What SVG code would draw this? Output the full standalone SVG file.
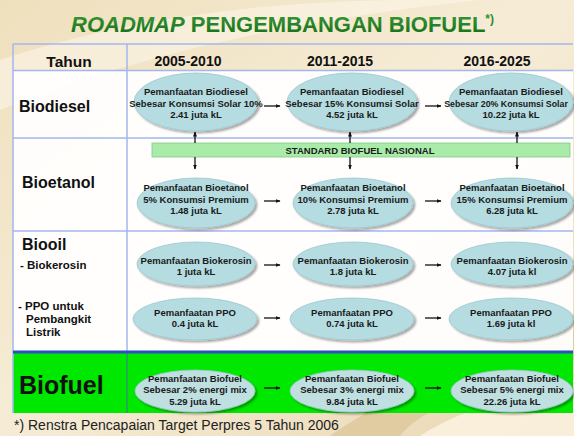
<svg xmlns="http://www.w3.org/2000/svg" width="574" height="436" viewBox="0 0 574 436">
<defs>
<linearGradient id="bg" x1="0" y1="0" x2="1" y2="1">
<stop offset="0" stop-color="#efe0bd"/>
<stop offset="0.5" stop-color="#f6ecd6"/>
<stop offset="1" stop-color="#e9d6b0"/>
</linearGradient>
<linearGradient id="ttl" x1="0" y1="0" x2="0" y2="1">
<stop offset="0" stop-color="#3a9a3a"/>
<stop offset="1" stop-color="#146c14"/>
</linearGradient>
<marker id="ah" viewBox="0 0 10 10" refX="9" refY="5" markerWidth="5" markerHeight="5" orient="auto-start-reverse" markerUnits="userSpaceOnUse">
<path d="M0,1 L10,5 L0,9 z" fill="#111"/>
</marker>
<filter id="sh" x="-10%" y="-10%" width="130%" height="140%">
<feGaussianBlur in="SourceAlpha" stdDeviation="1.2"/>
<feOffset dx="1.5" dy="2" result="o"/>
<feComponentTransfer><feFuncA type="linear" slope="0.35"/></feComponentTransfer>
<feMerge><feMergeNode/><feMergeNode in="SourceGraphic"/></feMerge>
</filter>
</defs>
<style>
.ell{fill:#b5dce1;stroke:#9cc7ce;stroke-width:0.8;filter:url(#sh)}
.et{font-family:"Liberation Sans",Arial,sans-serif;font-size:9.5px;font-weight:bold;fill:#1a1a1a;text-anchor:middle}
.lbl{font-family:"Liberation Sans",Arial,sans-serif;font-weight:bold;fill:#111}
.grid{stroke:#a4b6ee;stroke-width:1.5;fill:none}
.arr{stroke:#111;stroke-width:1.3;marker-end:url(#ah)}
.hd{font-family:"Liberation Sans",Arial,sans-serif;font-size:14px;font-weight:bold;fill:#111;text-anchor:middle}
</style>
<rect width="574" height="436" fill="url(#bg)"/>
<path d="M0,60 C120,20 260,0 420,0 L480,0 C300,20 150,50 0,110 z" fill="#fbf5e8" opacity="0.6"/>
<path d="M330,436 C380,400 470,360 574,330 L574,360 C480,385 420,410 400,436 z" fill="#d9bf8f" opacity="0.6"/>
<path d="M420,436 C450,415 520,390 574,380 L574,436 z" fill="#fff8ea" opacity="0.7"/>

<text x="71" y="32" font-family="Liberation Sans,Arial,sans-serif" font-size="22" font-weight="bold" fill="url(#ttl)"><tspan font-style="italic">ROADMAP</tspan> PENGEMBANGAN BIOFUEL<tspan font-size="12" dy="-9">*)</tspan></text>

<g id="table">
<rect x="13" y="70" width="560" height="282" fill="#ffffff" opacity="0.93"/>
<rect x="13" y="352" width="560" height="61" fill="#00e800"/>
<path class="grid" d="M13,44 H573 M13,70.5 H573 M13,138 H573 M13,231 H573 M13,44 V413 M127,44 V352"/>
<path d="M127,352 V413" stroke="#2a9a6a" stroke-width="1.5"/>
<path d="M13,352 H573" stroke="#2d4fc4" stroke-width="3"/>
</g>

<g id="headers">
<text class="lbl" x="69" y="67" font-size="15.5" text-anchor="middle">Tahun</text>
<text class="hd" x="188" y="66">2005-2010</text>
<text class="hd" x="340" y="66">2011-2015</text>
<text class="hd" x="497" y="66">2016-2025</text>
</g>

<g id="row-labels">
<text class="lbl" x="19" y="112" font-size="16">Biodiesel</text>
<text class="lbl" x="22" y="188" font-size="16">Bioetanol</text>
<text class="lbl" x="22" y="250" font-size="16">Biooil</text>
<text class="lbl" x="20" y="269" font-size="11.5">- Biokerosin</text>
<text class="lbl" x="18" y="310" font-size="11.5">- PPO untuk</text>
<text class="lbl" x="26" y="323" font-size="11.5">Pembangkit</text>
<text class="lbl" x="26" y="336" font-size="11.5">Listrik</text>
<text class="lbl" x="19" y="394" font-size="25">Biofuel</text>
</g>

<g id="standard-bar">
<rect x="152" y="143" width="418" height="14" fill="#a9eca9" stroke="#86c886" stroke-width="0.8"/>
<text class="et" x="360" y="153.5">STANDARD BIOFUEL NASIONAL</text>
</g>

<g id="biodiesel-1"><ellipse class="ell" cx="196" cy="102" rx="62" ry="29"/>
<text class="et" x="196" y="94.5">Pemanfaatan Biodiesel</text><text class="et" x="196" y="106.5">Sebesar Konsumsi Solar 10%</text><text class="et" x="196" y="118">2.41 juta kL</text></g>
<g id="biodiesel-2"><ellipse class="ell" cx="352" cy="102" rx="65" ry="29"/>
<text class="et" x="352" y="94.5">Pemanfaatan Biodiesel</text><text class="et" x="352" y="106.5">Sebesar 15% Konsumsi Solar</text><text class="et" x="352" y="118">4.52 juta kL</text></g>
<g id="biodiesel-3"><ellipse class="ell" cx="511" cy="102" rx="62" ry="29"/>
<text class="et" x="511" y="94.5">Pemanfaatan Biodiesel</text><text class="et" x="506" y="106.5" style="font-size:8.8px">Sebesar 20% Konsumsi Solar</text><text class="et" x="511" y="118">10.22 juta kL</text></g>

<g id="bioetanol-1"><ellipse class="ell" cx="196" cy="203" rx="59" ry="25"/>
<text class="et" x="196" y="190.5">Pemanfaatan Bioetanol</text><text class="et" x="196" y="202.5">5% Konsumsi Premium</text><text class="et" x="196" y="214">1.48 juta kL</text></g>
<g id="bioetanol-2"><ellipse class="ell" cx="353" cy="203" rx="60" ry="25"/>
<text class="et" x="353" y="190.5">Pemanfaatan Bioetanol</text><text class="et" x="353" y="202.5">10% Konsumsi Premium</text><text class="et" x="353" y="214">2.78 juta kL</text></g>
<g id="bioetanol-3"><ellipse class="ell" cx="512" cy="203" rx="61" ry="25"/>
<text class="et" x="512" y="190.5">Pemanfaatan Bioetanol</text><text class="et" x="512" y="202.5">15% Konsumsi Premium</text><text class="et" x="512" y="214">6.28 juta kL</text></g>

<g id="biokerosin-1"><ellipse class="ell" cx="196" cy="264" rx="59" ry="22"/>
<text class="et" x="196" y="263.5">Pemanfaatan Biokerosin</text><text class="et" x="196" y="275">1 juta kL</text></g>
<g id="biokerosin-2"><ellipse class="ell" cx="353" cy="264" rx="60" ry="22"/>
<text class="et" x="353" y="263.5">Pemanfaatan Biokerosin</text><text class="et" x="353" y="275">1.8 juta kL</text></g>
<g id="biokerosin-3"><ellipse class="ell" cx="512" cy="264" rx="61" ry="22"/>
<text class="et" x="512" y="263.5">Pemanfaatan Biokerosin</text><text class="et" x="512" y="275">4.07 juta kl</text></g>

<g id="ppo-1"><ellipse class="ell" cx="195" cy="319" rx="62" ry="21"/>
<text class="et" x="195" y="316">Pemanfaatan PPO</text><text class="et" x="195" y="327">0.4 juta kL</text></g>
<g id="ppo-2"><ellipse class="ell" cx="352" cy="319" rx="62" ry="21"/>
<text class="et" x="352" y="316">Pemanfaatan PPO</text><text class="et" x="352" y="327">0.74 juta kL</text></g>
<g id="ppo-3"><ellipse class="ell" cx="511" cy="319" rx="62" ry="21"/>
<text class="et" x="511" y="316">Pemanfaatan PPO</text><text class="et" x="511" y="327">1.69 juta kl</text></g>

<g id="biofuel-1"><ellipse class="ell" cx="195" cy="391" rx="60" ry="21" style="fill:#bfdfe0"/>
<text class="et" x="195" y="381.5">Pemanfaatan Biofuel</text><text class="et" x="195" y="393">Sebesar 2% energi mix</text><text class="et" x="195" y="404.5">5.29 juta kL</text></g>
<g id="biofuel-2"><ellipse class="ell" cx="352" cy="391" rx="62" ry="21" style="fill:#bfdfe0"/>
<text class="et" x="352" y="381.5">Pemanfaatan Biofuel</text><text class="et" x="352" y="393">Sebesar 3% energi mix</text><text class="et" x="352" y="404.5">9.84 juta kL</text></g>
<g id="biofuel-3"><ellipse class="ell" cx="512" cy="391" rx="61" ry="21" style="fill:#bfdfe0"/>
<text class="et" x="512" y="381.5">Pemanfaatan Biofuel</text><text class="et" x="512" y="393">Sebesar 5% energi mix</text><text class="et" x="512" y="404.5">22.26 juta kL</text></g>

<g id="connectors">
<line class="arr" x1="264" y1="106" x2="280" y2="106"/>
<line class="arr" x1="425" y1="106" x2="441" y2="106"/>
<line class="arr" x1="264" y1="201" x2="280" y2="201"/>
<line class="arr" x1="425" y1="201" x2="441" y2="201"/>
<line class="arr" x1="264" y1="265" x2="280" y2="265"/>
<line class="arr" x1="425" y1="265" x2="441" y2="265"/>
<line class="arr" x1="264" y1="318" x2="280" y2="318"/>
<line class="arr" x1="425" y1="318" x2="441" y2="318"/>
<line class="arr" x1="264" y1="388" x2="280" y2="388"/>
<line class="arr" x1="425" y1="388" x2="441" y2="388"/>
<line class="arr" x1="195" y1="143" x2="195" y2="132"/>
<line class="arr" x1="195" y1="157" x2="195" y2="169"/>
<line class="arr" x1="350" y1="143" x2="350" y2="132"/>
<line class="arr" x1="350" y1="157" x2="350" y2="169"/>
<line class="arr" x1="517" y1="143" x2="517" y2="132"/>
<line class="arr" x1="517" y1="157" x2="517" y2="169"/>
</g>

<text x="14" y="430" font-family="Liberation Sans,Arial,sans-serif" font-size="14" fill="#222">*) Renstra Pencapaian Target Perpres 5 Tahun 2006</text>
</svg>
